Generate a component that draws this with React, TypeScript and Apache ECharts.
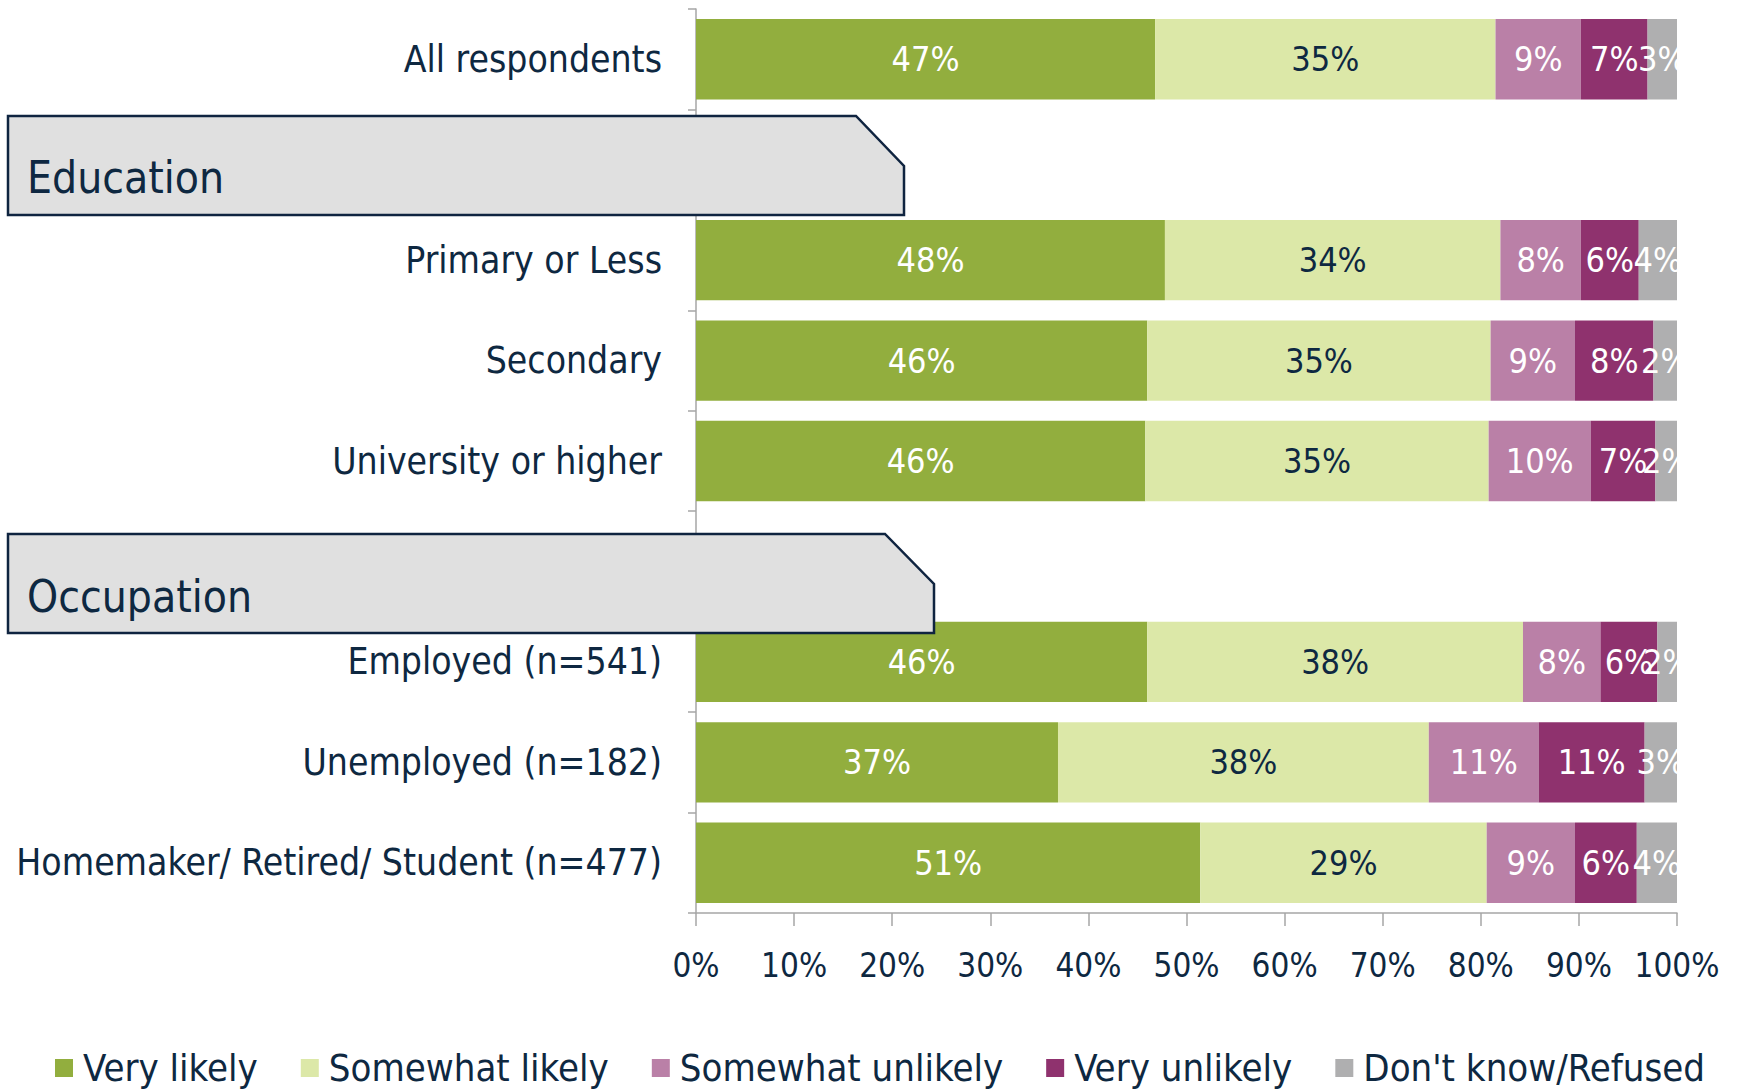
import React, { useEffect, useRef } from "react";
import * as echarts from "echarts";

const categories = [
  "All respondents",
  "",
  "Primary or Less",
  "Secondary",
  "University or higher",
  " ",
  "Employed (n=541)",
  "Unemployed (n=182)",
  "Homemaker/ Retired/ Student (n=477)",
];
const seriesNames = ["Very likely", "Somewhat likely", "Somewhat unlikely", "Very unlikely", "Don't know/Refused"];
const veryLikely = [46.8, null, 47.8, 46.0, 45.8, null, 46.0, 36.9, 51.4];
const somewhatLikely = [34.7, null, 34.2, 35.0, 35.0, null, 38.3, 37.8, 29.2];
const somewhatUnlikely = [8.7, null, 8.2, 8.6, 10.4, null, 7.9, 11.2, 9.0];
const veryUnlikely = [6.8, null, 5.9, 8.0, 6.6, null, 5.8, 10.8, 6.3];
const dontKnow = [3.0, null, 3.9, 2.4, 2.2, null, 2.0, 3.3, 4.1];
const xTicks = [0, 10, 20, 30, 40, 50, 60, 70, 80, 90, 100];
const sectionHeaders = ["Education", "Occupation"];

const colors = ["#92ae3e", "#dce8a8", "#ba80a7", "#8f326e", "#afafb0"];
const labelColors = ["#ffffff", "#0e2841", "#ffffff", "#ffffff", "#ffffff"];
const NAVY = "#0e2841";
const FONT = "'DejaVu Sans Condensed', 'Liberation Sans Narrow', sans-serif";

export default function App() {
  const ref = useRef<HTMLDivElement>(null);
  useEffect(() => {
    document.body.style.margin = "0";
    const chart = echarts.init(ref.current!, null, { renderer: "svg" });
    const values = [veryLikely, somewhatLikely, somewhatUnlikely, veryUnlikely, dontKnow];
    const header = (name: string, top: number, cut: number, right: number, textY: number) => ({
      type: "group",
      z: 100,
      children: [
        {
          type: "polygon",
          z: 100,
          shape: {
            points: [
              [8, top],
              [cut, top],
              [right, top + 50],
              [right, top + 99],
              [8, top + 99],
            ],
          },
          style: { fill: "#e0e0e0", stroke: "#0f2440", lineWidth: 2.5 },
        },
        {
          type: "text",
          z: 101,
          x: 27,
          y: textY,
          style: {
            text: name,
            fill: NAVY,
            font: `44px ${FONT}`,
            verticalAlign: "middle",
          },
        },
      ],
    });
    chart.setOption({
      animation: false,
      textStyle: { fontFamily: FONT },
      grid: { left: 696, right: 61, top: 9, height: 904, containLabel: false, outerBoundsMode: "none" },
      legend: {
        data: seriesNames,
        left: 50,
        top: 1043,
        icon: "rect",
        itemWidth: 18,
        itemHeight: 18,
        itemGap: 43,
        textStyle: { fontSize: 38, color: NAVY, fontFamily: FONT, lineHeight: 40, padding: [0, 0, 0, 5] },
      },
      xAxis: {
        type: "value",
        min: 0,
        max: 100,
        interval: 10,
        axisLine: { show: true, lineStyle: { color: "#a6a6a6", width: 1.5 } },
        axisTick: { show: true, length: 13, lineStyle: { color: "#a6a6a6", width: 1.5 } },
        splitLine: { show: false },
        axisLabel: {
          formatter: (v: number) => (xTicks.includes(v) ? v + "%" : ""),
          fontSize: 33,
          color: NAVY,
          fontFamily: FONT,
          margin: 36,
        },
      },
      yAxis: {
        type: "category",
        inverse: true,
        data: categories,
        axisLine: { show: true, lineStyle: { color: "#a6a6a6", width: 1.5 } },
        axisTick: { show: true, length: 8, lineStyle: { color: "#a6a6a6", width: 1.5 } },
        axisLabel: { fontSize: 37, color: NAVY, fontFamily: FONT, margin: 34 },
      },
      series: seriesNames.map((name, i) => ({
        name,
        type: "bar",
        stack: "total",
        barCategoryGap: "20%",
        itemStyle: { color: colors[i] },
        label: {
          show: true,
          position: "inside",
          color: labelColors[i],
          fontSize: 34,
          fontFamily: FONT,
          formatter: (p: any) => (p.value == null ? "" : Math.round(p.value) + "%"),
        },
        data: values[i],
      })),
      graphic: [
        header(sectionHeaders[0], 116, 856, 904, 177),
        header(sectionHeaders[1], 534, 885, 934, 596),
      ],
    });
    return () => chart.dispose();
  }, []);
  return <div ref={ref} style={{ width: 1738, height: 1090 }} />;
}
